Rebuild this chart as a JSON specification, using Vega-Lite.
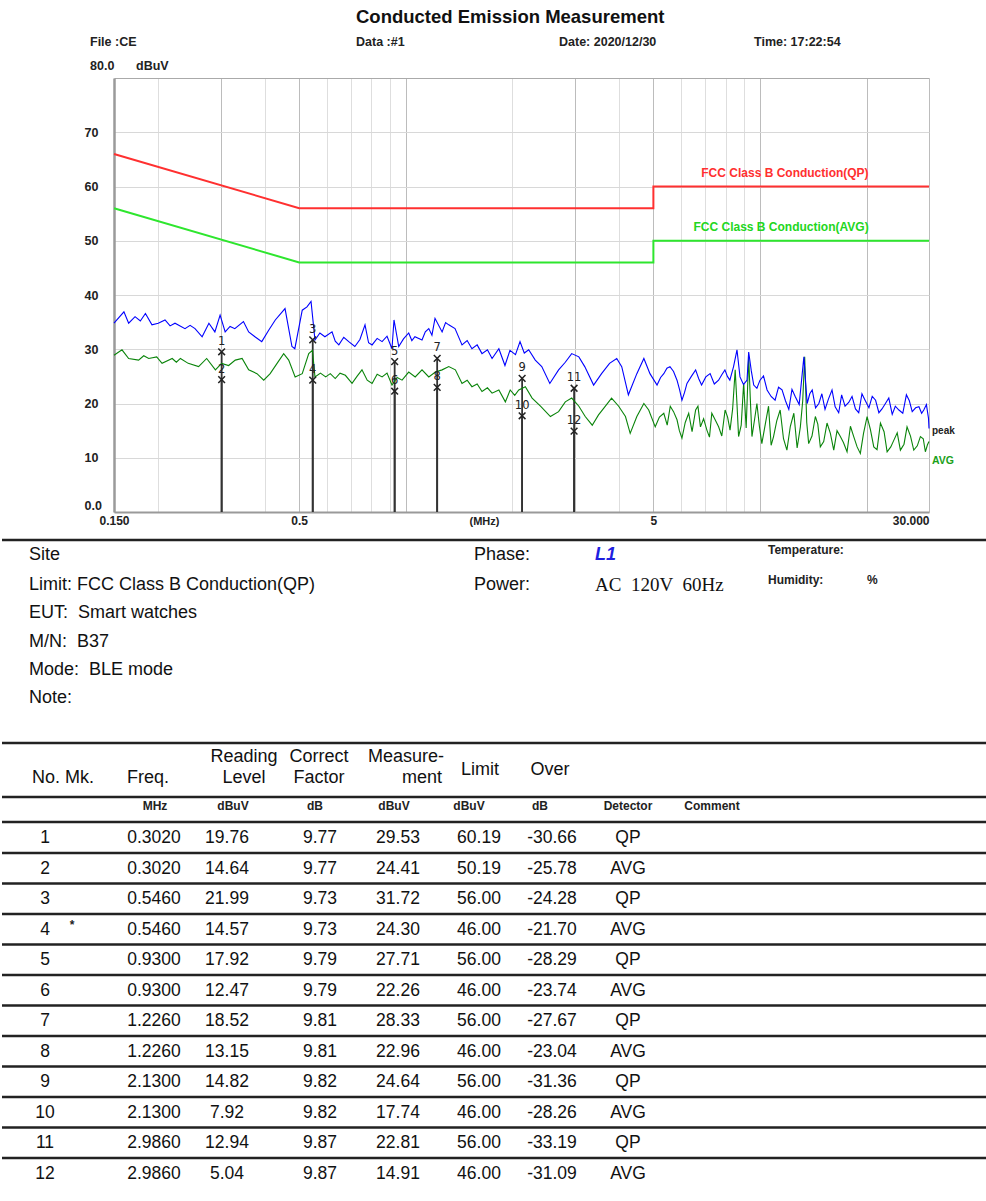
{
  "$schema": "https://vega.github.io/schema/vega-lite/v6.json",
  "padding": 0,
  "spacing": 0,
  "bounds": "flush",
  "background": "white",
  "config": {
    "view": {"stroke": null},
    "font": "Liberation Sans",
    "locale": {"number": {"decimal": ".", "thousands": ",", "grouping": [3], "currency": ["$", ""], "minus": "-"}}
  },
  "datasets": {
    "markers": [
      {"No": 1, "Mk": "", "Freq": 0.302, "Reading": 19.76, "Correct": 9.77, "Measurement": 29.53, "Limit": 60.19, "Over": -30.66, "Detector": "QP"},
      {"No": 2, "Mk": "", "Freq": 0.302, "Reading": 14.64, "Correct": 9.77, "Measurement": 24.41, "Limit": 50.19, "Over": -25.78, "Detector": "AVG"},
      {"No": 3, "Mk": "", "Freq": 0.546, "Reading": 21.99, "Correct": 9.73, "Measurement": 31.72, "Limit": 56.00, "Over": -24.28, "Detector": "QP"},
      {"No": 4, "Mk": "*", "Freq": 0.546, "Reading": 14.57, "Correct": 9.73, "Measurement": 24.30, "Limit": 46.00, "Over": -21.70, "Detector": "AVG"},
      {"No": 5, "Mk": "", "Freq": 0.930, "Reading": 17.92, "Correct": 9.79, "Measurement": 27.71, "Limit": 56.00, "Over": -28.29, "Detector": "QP"},
      {"No": 6, "Mk": "", "Freq": 0.930, "Reading": 12.47, "Correct": 9.79, "Measurement": 22.26, "Limit": 46.00, "Over": -23.74, "Detector": "AVG"},
      {"No": 7, "Mk": "", "Freq": 1.226, "Reading": 18.52, "Correct": 9.81, "Measurement": 28.33, "Limit": 56.00, "Over": -27.67, "Detector": "QP"},
      {"No": 8, "Mk": "", "Freq": 1.226, "Reading": 13.15, "Correct": 9.81, "Measurement": 22.96, "Limit": 46.00, "Over": -23.04, "Detector": "AVG"},
      {"No": 9, "Mk": "", "Freq": 2.130, "Reading": 14.82, "Correct": 9.82, "Measurement": 24.64, "Limit": 56.00, "Over": -31.36, "Detector": "QP"},
      {"No": 10, "Mk": "", "Freq": 2.130, "Reading": 7.92, "Correct": 9.82, "Measurement": 17.74, "Limit": 46.00, "Over": -28.26, "Detector": "AVG"},
      {"No": 11, "Mk": "", "Freq": 2.986, "Reading": 12.94, "Correct": 9.87, "Measurement": 22.81, "Limit": 56.00, "Over": -33.19, "Detector": "QP"},
      {"No": 12, "Mk": "", "Freq": 2.986, "Reading": 5.04, "Correct": 9.87, "Measurement": 14.91, "Limit": 46.00, "Over": -31.09, "Detector": "AVG"}
    ],
    "limits": [
      {"Limit": "QP", "Seq": 1, "Freq": 0.15, "Level": 66},
      {"Limit": "QP", "Seq": 2, "Freq": 0.5, "Level": 56},
      {"Limit": "QP", "Seq": 3, "Freq": 5, "Level": 56},
      {"Limit": "QP", "Seq": 4, "Freq": 5, "Level": 60},
      {"Limit": "QP", "Seq": 5, "Freq": 30, "Level": 60},
      {"Limit": "AVG", "Seq": 1, "Freq": 0.15, "Level": 56},
      {"Limit": "AVG", "Seq": 2, "Freq": 0.5, "Level": 46},
      {"Limit": "AVG", "Seq": 3, "Freq": 5, "Level": 46},
      {"Limit": "AVG", "Seq": 4, "Freq": 5, "Level": 50},
      {"Limit": "AVG", "Seq": 5, "Freq": 30, "Level": 50}
    ],
    "annotations": [
      {"label": "FCC Class B Conduction(QP)", "series": "QPlimit"},
      {"label": "FCC Class B Conduction(AVG)", "series": "AVGlimit"},
      {"label": "peak", "series": "peak"},
      {"label": "AVG", "series": "AVG"}
    ],
    "trace": [
      {"Trace": "peak", "Freq": 0.150, "Level": 34.8},
      {"Trace": "peak", "Freq": 0.160, "Level": 36.9},
      {"Trace": "peak", "Freq": 0.165, "Level": 34.8},
      {"Trace": "peak", "Freq": 0.172, "Level": 36.0},
      {"Trace": "peak", "Freq": 0.178, "Level": 35.2},
      {"Trace": "peak", "Freq": 0.184, "Level": 36.6},
      {"Trace": "peak", "Freq": 0.192, "Level": 34.5},
      {"Trace": "peak", "Freq": 0.200, "Level": 34.8},
      {"Trace": "peak", "Freq": 0.209, "Level": 35.4},
      {"Trace": "peak", "Freq": 0.216, "Level": 34.3},
      {"Trace": "peak", "Freq": 0.223, "Level": 34.8},
      {"Trace": "peak", "Freq": 0.238, "Level": 33.8},
      {"Trace": "peak", "Freq": 0.246, "Level": 34.4},
      {"Trace": "peak", "Freq": 0.254, "Level": 33.8},
      {"Trace": "peak", "Freq": 0.266, "Level": 32.3},
      {"Trace": "peak", "Freq": 0.278, "Level": 34.8},
      {"Trace": "peak", "Freq": 0.289, "Level": 33.2},
      {"Trace": "peak", "Freq": 0.299, "Level": 36.3},
      {"Trace": "peak", "Freq": 0.309, "Level": 33.2},
      {"Trace": "peak", "Freq": 0.319, "Level": 34.2},
      {"Trace": "peak", "Freq": 0.329, "Level": 33.8},
      {"Trace": "peak", "Freq": 0.348, "Level": 35.1},
      {"Trace": "peak", "Freq": 0.360, "Level": 33.2},
      {"Trace": "peak", "Freq": 0.375, "Level": 32.3},
      {"Trace": "peak", "Freq": 0.392, "Level": 31.4},
      {"Trace": "peak", "Freq": 0.410, "Level": 33.5},
      {"Trace": "peak", "Freq": 0.428, "Level": 35.4},
      {"Trace": "peak", "Freq": 0.456, "Level": 37.5},
      {"Trace": "peak", "Freq": 0.477, "Level": 30.5},
      {"Trace": "peak", "Freq": 0.486, "Level": 30.1},
      {"Trace": "peak", "Freq": 0.510, "Level": 37.2},
      {"Trace": "peak", "Freq": 0.526, "Level": 37.8},
      {"Trace": "peak", "Freq": 0.540, "Level": 38.8},
      {"Trace": "peak", "Freq": 0.554, "Level": 31.7},
      {"Trace": "peak", "Freq": 0.572, "Level": 33.0},
      {"Trace": "peak", "Freq": 0.591, "Level": 32.3},
      {"Trace": "peak", "Freq": 0.619, "Level": 33.2},
      {"Trace": "peak", "Freq": 0.632, "Level": 31.5},
      {"Trace": "peak", "Freq": 0.647, "Level": 30.8},
      {"Trace": "peak", "Freq": 0.668, "Level": 32.2},
      {"Trace": "peak", "Freq": 0.690, "Level": 31.4},
      {"Trace": "peak", "Freq": 0.718, "Level": 30.5},
      {"Trace": "peak", "Freq": 0.742, "Level": 31.8},
      {"Trace": "peak", "Freq": 0.767, "Level": 34.5},
      {"Trace": "peak", "Freq": 0.785, "Level": 31.2},
      {"Trace": "peak", "Freq": 0.803, "Level": 30.8},
      {"Trace": "peak", "Freq": 0.830, "Level": 32.0},
      {"Trace": "peak", "Freq": 0.857, "Level": 31.4},
      {"Trace": "peak", "Freq": 0.885, "Level": 32.4},
      {"Trace": "peak", "Freq": 0.914, "Level": 30.1},
      {"Trace": "peak", "Freq": 0.926, "Level": 35.4},
      {"Trace": "peak", "Freq": 0.955, "Level": 30.5},
      {"Trace": "peak", "Freq": 0.985, "Level": 31.9},
      {"Trace": "peak", "Freq": 1.019, "Level": 33.0},
      {"Trace": "peak", "Freq": 1.040, "Level": 31.6},
      {"Trace": "peak", "Freq": 1.061, "Level": 32.3},
      {"Trace": "peak", "Freq": 1.111, "Level": 31.7},
      {"Trace": "peak", "Freq": 1.135, "Level": 33.2},
      {"Trace": "peak", "Freq": 1.161, "Level": 33.8},
      {"Trace": "peak", "Freq": 1.185, "Level": 32.6},
      {"Trace": "peak", "Freq": 1.209, "Level": 35.7},
      {"Trace": "peak", "Freq": 1.266, "Level": 33.2},
      {"Trace": "peak", "Freq": 1.295, "Level": 34.9},
      {"Trace": "peak", "Freq": 1.322, "Level": 34.5},
      {"Trace": "peak", "Freq": 1.377, "Level": 33.8},
      {"Trace": "peak", "Freq": 1.441, "Level": 30.8},
      {"Trace": "peak", "Freq": 1.490, "Level": 31.6},
      {"Trace": "peak", "Freq": 1.537, "Level": 30.1},
      {"Trace": "peak", "Freq": 1.590, "Level": 30.8},
      {"Trace": "peak", "Freq": 1.641, "Level": 29.2},
      {"Trace": "peak", "Freq": 1.700, "Level": 29.9},
      {"Trace": "peak", "Freq": 1.752, "Level": 28.3},
      {"Trace": "peak", "Freq": 1.831, "Level": 30.1},
      {"Trace": "peak", "Freq": 1.905, "Level": 27.0},
      {"Trace": "peak", "Freq": 1.968, "Level": 29.8},
      {"Trace": "peak", "Freq": 2.040, "Level": 29.0},
      {"Trace": "peak", "Freq": 2.101, "Level": 31.4},
      {"Trace": "peak", "Freq": 2.160, "Level": 29.3},
      {"Trace": "peak", "Freq": 2.223, "Level": 29.9},
      {"Trace": "peak", "Freq": 2.32, "Level": 28.0},
      {"Trace": "peak", "Freq": 2.42, "Level": 26.8},
      {"Trace": "peak", "Freq": 2.55, "Level": 23.7},
      {"Trace": "peak", "Freq": 2.70, "Level": 26.2},
      {"Trace": "peak", "Freq": 2.82, "Level": 27.6},
      {"Trace": "peak", "Freq": 2.94, "Level": 29.2},
      {"Trace": "peak", "Freq": 3.08, "Level": 28.6},
      {"Trace": "peak", "Freq": 3.20, "Level": 26.8},
      {"Trace": "peak", "Freq": 3.39, "Level": 23.4},
      {"Trace": "peak", "Freq": 3.57, "Level": 25.5},
      {"Trace": "peak", "Freq": 3.76, "Level": 27.4},
      {"Trace": "peak", "Freq": 3.94, "Level": 28.3},
      {"Trace": "peak", "Freq": 4.07, "Level": 26.8},
      {"Trace": "peak", "Freq": 4.25, "Level": 21.6},
      {"Trace": "peak", "Freq": 4.49, "Level": 25.5},
      {"Trace": "peak", "Freq": 4.70, "Level": 28.3},
      {"Trace": "peak", "Freq": 4.89, "Level": 25.5},
      {"Trace": "peak", "Freq": 5.12, "Level": 23.4},
      {"Trace": "peak", "Freq": 5.24, "Level": 24.8},
      {"Trace": "peak", "Freq": 5.35, "Level": 25.5},
      {"Trace": "peak", "Freq": 5.46, "Level": 26.5},
      {"Trace": "peak", "Freq": 5.57, "Level": 26.8},
      {"Trace": "peak", "Freq": 5.70, "Level": 25.9},
      {"Trace": "peak", "Freq": 5.83, "Level": 24.3},
      {"Trace": "peak", "Freq": 5.93, "Level": 22.5},
      {"Trace": "peak", "Freq": 6.02, "Level": 20.6},
      {"Trace": "peak", "Freq": 6.12, "Level": 22.0},
      {"Trace": "peak", "Freq": 6.22, "Level": 23.7},
      {"Trace": "peak", "Freq": 6.40, "Level": 25.0},
      {"Trace": "peak", "Freq": 6.58, "Level": 26.2},
      {"Trace": "peak", "Freq": 6.71, "Level": 24.6},
      {"Trace": "peak", "Freq": 6.84, "Level": 23.4},
      {"Trace": "peak", "Freq": 7.03, "Level": 24.9},
      {"Trace": "peak", "Freq": 7.23, "Level": 25.5},
      {"Trace": "peak", "Freq": 7.43, "Level": 23.6},
      {"Trace": "peak", "Freq": 7.64, "Level": 24.3},
      {"Trace": "peak", "Freq": 7.80, "Level": 25.3},
      {"Trace": "peak", "Freq": 7.96, "Level": 26.2},
      {"Trace": "peak", "Freq": 8.09, "Level": 25.0},
      {"Trace": "peak", "Freq": 8.22, "Level": 24.3},
      {"Trace": "peak", "Freq": 8.42, "Level": 26.8},
      {"Trace": "peak", "Freq": 8.61, "Level": 29.9},
      {"Trace": "peak", "Freq": 8.78, "Level": 24.9},
      {"Trace": "peak", "Freq": 8.98, "Level": 23.5},
      {"Trace": "peak", "Freq": 9.19, "Level": 24.3},
      {"Trace": "peak", "Freq": 9.29, "Level": 29.5},
      {"Trace": "peak", "Freq": 9.45, "Level": 26.0},
      {"Trace": "peak", "Freq": 9.60, "Level": 23.4},
      {"Trace": "peak", "Freq": 9.80, "Level": 22.8},
      {"Trace": "peak", "Freq": 10.00, "Level": 24.3},
      {"Trace": "peak", "Freq": 10.23, "Level": 25.1},
      {"Trace": "peak", "Freq": 10.47, "Level": 22.5},
      {"Trace": "peak", "Freq": 10.75, "Level": 21.3},
      {"Trace": "peak", "Freq": 11.03, "Level": 20.6},
      {"Trace": "peak", "Freq": 11.28, "Level": 23.0},
      {"Trace": "peak", "Freq": 11.54, "Level": 22.5},
      {"Trace": "peak", "Freq": 11.80, "Level": 20.5},
      {"Trace": "peak", "Freq": 12.06, "Level": 18.9},
      {"Trace": "peak", "Freq": 12.31, "Level": 22.6},
      {"Trace": "peak", "Freq": 12.57, "Level": 21.3},
      {"Trace": "peak", "Freq": 12.90, "Level": 19.8},
      {"Trace": "peak", "Freq": 13.30, "Level": 28.6},
      {"Trace": "peak", "Freq": 13.45, "Level": 24.0},
      {"Trace": "peak", "Freq": 13.59, "Level": 20.0},
      {"Trace": "peak", "Freq": 13.82, "Level": 21.8},
      {"Trace": "peak", "Freq": 14.04, "Level": 22.5},
      {"Trace": "peak", "Freq": 14.35, "Level": 19.2},
      {"Trace": "peak", "Freq": 14.66, "Level": 20.0},
      {"Trace": "peak", "Freq": 14.95, "Level": 21.8},
      {"Trace": "peak", "Freq": 15.26, "Level": 18.9},
      {"Trace": "peak", "Freq": 15.6, "Level": 20.8},
      {"Trace": "peak", "Freq": 15.97, "Level": 22.5},
      {"Trace": "peak", "Freq": 16.3, "Level": 19.4},
      {"Trace": "peak", "Freq": 16.68, "Level": 18.3},
      {"Trace": "peak", "Freq": 17.0, "Level": 21.6},
      {"Trace": "peak", "Freq": 17.38, "Level": 19.5},
      {"Trace": "peak", "Freq": 17.8, "Level": 20.2},
      {"Trace": "peak", "Freq": 18.19, "Level": 21.3},
      {"Trace": "peak", "Freq": 18.6, "Level": 19.0},
      {"Trace": "peak", "Freq": 19.00, "Level": 18.3},
      {"Trace": "peak", "Freq": 19.4, "Level": 21.8},
      {"Trace": "peak", "Freq": 19.80, "Level": 20.6},
      {"Trace": "peak", "Freq": 20.3, "Level": 19.2},
      {"Trace": "peak", "Freq": 20.74, "Level": 21.3},
      {"Trace": "peak", "Freq": 21.2, "Level": 20.6},
      {"Trace": "peak", "Freq": 21.66, "Level": 18.3},
      {"Trace": "peak", "Freq": 22.1, "Level": 19.0},
      {"Trace": "peak", "Freq": 22.6, "Level": 20.0},
      {"Trace": "peak", "Freq": 23.1, "Level": 21.0},
      {"Trace": "peak", "Freq": 23.62, "Level": 18.0},
      {"Trace": "peak", "Freq": 24.1, "Level": 19.5},
      {"Trace": "peak", "Freq": 24.67, "Level": 18.8},
      {"Trace": "peak", "Freq": 25.3, "Level": 18.2},
      {"Trace": "peak", "Freq": 25.9, "Level": 21.6},
      {"Trace": "peak", "Freq": 26.4, "Level": 20.5},
      {"Trace": "peak", "Freq": 26.9, "Level": 18.5},
      {"Trace": "peak", "Freq": 27.5, "Level": 19.2},
      {"Trace": "peak", "Freq": 28.1, "Level": 19.4},
      {"Trace": "peak", "Freq": 28.6, "Level": 18.2},
      {"Trace": "peak", "Freq": 29.0, "Level": 18.8},
      {"Trace": "peak", "Freq": 29.5, "Level": 19.8},
      {"Trace": "peak", "Freq": 29.9, "Level": 17.3},
      {"Trace": "peak", "Freq": 30.0, "Level": 15.4},
      {"Trace": "AVG", "Freq": 0.150, "Level": 28.9},
      {"Trace": "AVG", "Freq": 0.158, "Level": 29.9},
      {"Trace": "AVG", "Freq": 0.165, "Level": 28.3},
      {"Trace": "AVG", "Freq": 0.176, "Level": 28.0},
      {"Trace": "AVG", "Freq": 0.182, "Level": 28.8},
      {"Trace": "AVG", "Freq": 0.188, "Level": 28.3},
      {"Trace": "AVG", "Freq": 0.198, "Level": 28.6},
      {"Trace": "AVG", "Freq": 0.205, "Level": 27.4},
      {"Trace": "AVG", "Freq": 0.219, "Level": 28.3},
      {"Trace": "AVG", "Freq": 0.225, "Level": 27.6},
      {"Trace": "AVG", "Freq": 0.231, "Level": 28.3},
      {"Trace": "AVG", "Freq": 0.243, "Level": 27.4},
      {"Trace": "AVG", "Freq": 0.260, "Level": 26.8},
      {"Trace": "AVG", "Freq": 0.274, "Level": 28.3},
      {"Trace": "AVG", "Freq": 0.290, "Level": 26.2},
      {"Trace": "AVG", "Freq": 0.302, "Level": 27.4},
      {"Trace": "AVG", "Freq": 0.316, "Level": 27.0},
      {"Trace": "AVG", "Freq": 0.330, "Level": 28.0},
      {"Trace": "AVG", "Freq": 0.345, "Level": 28.3},
      {"Trace": "AVG", "Freq": 0.360, "Level": 26.2},
      {"Trace": "AVG", "Freq": 0.380, "Level": 25.5},
      {"Trace": "AVG", "Freq": 0.397, "Level": 24.3},
      {"Trace": "AVG", "Freq": 0.414, "Level": 25.5},
      {"Trace": "AVG", "Freq": 0.433, "Level": 27.4},
      {"Trace": "AVG", "Freq": 0.452, "Level": 29.2},
      {"Trace": "AVG", "Freq": 0.467, "Level": 28.0},
      {"Trace": "AVG", "Freq": 0.487, "Level": 24.9},
      {"Trace": "AVG", "Freq": 0.510, "Level": 25.5},
      {"Trace": "AVG", "Freq": 0.532, "Level": 29.2},
      {"Trace": "AVG", "Freq": 0.545, "Level": 29.8},
      {"Trace": "AVG", "Freq": 0.554, "Level": 24.9},
      {"Trace": "AVG", "Freq": 0.574, "Level": 25.6},
      {"Trace": "AVG", "Freq": 0.594, "Level": 24.9},
      {"Trace": "AVG", "Freq": 0.612, "Level": 25.5},
      {"Trace": "AVG", "Freq": 0.632, "Level": 24.6},
      {"Trace": "AVG", "Freq": 0.652, "Level": 25.6},
      {"Trace": "AVG", "Freq": 0.675, "Level": 25.2},
      {"Trace": "AVG", "Freq": 0.705, "Level": 23.7},
      {"Trace": "AVG", "Freq": 0.728, "Level": 25.0},
      {"Trace": "AVG", "Freq": 0.752, "Level": 26.2},
      {"Trace": "AVG", "Freq": 0.778, "Level": 24.3},
      {"Trace": "AVG", "Freq": 0.803, "Level": 23.7},
      {"Trace": "AVG", "Freq": 0.830, "Level": 25.4},
      {"Trace": "AVG", "Freq": 0.857, "Level": 24.9},
      {"Trace": "AVG", "Freq": 0.885, "Level": 25.6},
      {"Trace": "AVG", "Freq": 0.914, "Level": 23.4},
      {"Trace": "AVG", "Freq": 0.945, "Level": 24.8},
      {"Trace": "AVG", "Freq": 0.976, "Level": 24.3},
      {"Trace": "AVG", "Freq": 1.019, "Level": 25.8},
      {"Trace": "AVG", "Freq": 1.063, "Level": 24.9},
      {"Trace": "AVG", "Freq": 1.111, "Level": 26.2},
      {"Trace": "AVG", "Freq": 1.161, "Level": 24.9},
      {"Trace": "AVG", "Freq": 1.212, "Level": 25.8},
      {"Trace": "AVG", "Freq": 1.266, "Level": 26.2},
      {"Trace": "AVG", "Freq": 1.322, "Level": 26.8},
      {"Trace": "AVG", "Freq": 1.380, "Level": 26.2},
      {"Trace": "AVG", "Freq": 1.441, "Level": 23.7},
      {"Trace": "AVG", "Freq": 1.490, "Level": 24.3},
      {"Trace": "AVG", "Freq": 1.537, "Level": 23.1},
      {"Trace": "AVG", "Freq": 1.590, "Level": 23.6},
      {"Trace": "AVG", "Freq": 1.641, "Level": 22.2},
      {"Trace": "AVG", "Freq": 1.700, "Level": 22.9},
      {"Trace": "AVG", "Freq": 1.752, "Level": 21.9},
      {"Trace": "AVG", "Freq": 1.831, "Level": 22.5},
      {"Trace": "AVG", "Freq": 1.910, "Level": 20.3},
      {"Trace": "AVG", "Freq": 1.971, "Level": 22.5},
      {"Trace": "AVG", "Freq": 2.030, "Level": 21.5},
      {"Trace": "AVG", "Freq": 2.084, "Level": 22.5},
      {"Trace": "AVG", "Freq": 2.175, "Level": 23.1},
      {"Trace": "AVG", "Freq": 2.273, "Level": 21.0},
      {"Trace": "AVG", "Freq": 2.40, "Level": 19.5},
      {"Trace": "AVG", "Freq": 2.56, "Level": 17.6},
      {"Trace": "AVG", "Freq": 2.70, "Level": 18.5},
      {"Trace": "AVG", "Freq": 2.82, "Level": 20.3},
      {"Trace": "AVG", "Freq": 2.94, "Level": 21.0},
      {"Trace": "AVG", "Freq": 3.08, "Level": 19.5},
      {"Trace": "AVG", "Freq": 3.21, "Level": 17.6},
      {"Trace": "AVG", "Freq": 3.36, "Level": 16.0},
      {"Trace": "AVG", "Freq": 3.50, "Level": 17.9},
      {"Trace": "AVG", "Freq": 3.66, "Level": 19.5},
      {"Trace": "AVG", "Freq": 3.81, "Level": 21.0},
      {"Trace": "AVG", "Freq": 3.99, "Level": 19.5},
      {"Trace": "AVG", "Freq": 4.17, "Level": 17.6},
      {"Trace": "AVG", "Freq": 4.30, "Level": 14.5},
      {"Trace": "AVG", "Freq": 4.49, "Level": 17.6},
      {"Trace": "AVG", "Freq": 4.70, "Level": 20.0},
      {"Trace": "AVG", "Freq": 4.85, "Level": 18.8},
      {"Trace": "AVG", "Freq": 5.06, "Level": 15.7},
      {"Trace": "AVG", "Freq": 5.20, "Level": 17.5},
      {"Trace": "AVG", "Freq": 5.35, "Level": 18.2},
      {"Trace": "AVG", "Freq": 5.47, "Level": 16.0},
      {"Trace": "AVG", "Freq": 5.58, "Level": 19.5},
      {"Trace": "AVG", "Freq": 5.70, "Level": 18.5},
      {"Trace": "AVG", "Freq": 5.83, "Level": 17.0},
      {"Trace": "AVG", "Freq": 5.92, "Level": 15.0},
      {"Trace": "AVG", "Freq": 6.02, "Level": 13.6},
      {"Trace": "AVG", "Freq": 6.15, "Level": 16.5},
      {"Trace": "AVG", "Freq": 6.29, "Level": 18.2},
      {"Trace": "AVG", "Freq": 6.43, "Level": 14.8},
      {"Trace": "AVG", "Freq": 6.58, "Level": 18.8},
      {"Trace": "AVG", "Freq": 6.68, "Level": 19.5},
      {"Trace": "AVG", "Freq": 6.79, "Level": 15.7},
      {"Trace": "AVG", "Freq": 6.93, "Level": 17.2},
      {"Trace": "AVG", "Freq": 7.08, "Level": 15.1},
      {"Trace": "AVG", "Freq": 7.20, "Level": 13.8},
      {"Trace": "AVG", "Freq": 7.31, "Level": 18.2},
      {"Trace": "AVG", "Freq": 7.47, "Level": 17.0},
      {"Trace": "AVG", "Freq": 7.64, "Level": 15.7},
      {"Trace": "AVG", "Freq": 7.80, "Level": 14.0},
      {"Trace": "AVG", "Freq": 7.97, "Level": 18.8},
      {"Trace": "AVG", "Freq": 8.10, "Level": 17.5},
      {"Trace": "AVG", "Freq": 8.23, "Level": 15.1},
      {"Trace": "AVG", "Freq": 8.37, "Level": 19.0},
      {"Trace": "AVG", "Freq": 8.51, "Level": 26.2},
      {"Trace": "AVG", "Freq": 8.60, "Level": 20.5},
      {"Trace": "AVG", "Freq": 8.70, "Level": 13.9},
      {"Trace": "AVG", "Freq": 8.85, "Level": 16.0},
      {"Trace": "AVG", "Freq": 8.99, "Level": 23.7},
      {"Trace": "AVG", "Freq": 9.14, "Level": 15.5},
      {"Trace": "AVG", "Freq": 9.29, "Level": 28.6},
      {"Trace": "AVG", "Freq": 9.38, "Level": 21.5},
      {"Trace": "AVG", "Freq": 9.49, "Level": 13.9},
      {"Trace": "AVG", "Freq": 9.65, "Level": 17.0},
      {"Trace": "AVG", "Freq": 9.80, "Level": 20.0},
      {"Trace": "AVG", "Freq": 9.96, "Level": 15.8},
      {"Trace": "AVG", "Freq": 10.12, "Level": 12.6},
      {"Trace": "AVG", "Freq": 10.35, "Level": 16.2},
      {"Trace": "AVG", "Freq": 10.57, "Level": 19.5},
      {"Trace": "AVG", "Freq": 10.75, "Level": 12.3},
      {"Trace": "AVG", "Freq": 10.92, "Level": 13.9},
      {"Trace": "AVG", "Freq": 11.15, "Level": 16.8},
      {"Trace": "AVG", "Freq": 11.40, "Level": 18.8},
      {"Trace": "AVG", "Freq": 11.65, "Level": 13.5},
      {"Trace": "AVG", "Freq": 11.91, "Level": 11.4},
      {"Trace": "AVG", "Freq": 12.18, "Level": 15.8},
      {"Trace": "AVG", "Freq": 12.46, "Level": 18.2},
      {"Trace": "AVG", "Freq": 12.73, "Level": 11.8},
      {"Trace": "AVG", "Freq": 13.00, "Level": 15.7},
      {"Trace": "AVG", "Freq": 13.20, "Level": 20.5},
      {"Trace": "AVG", "Freq": 13.37, "Level": 28.6},
      {"Trace": "AVG", "Freq": 13.55, "Level": 16.5},
      {"Trace": "AVG", "Freq": 13.72, "Level": 12.6},
      {"Trace": "AVG", "Freq": 14.02, "Level": 14.0},
      {"Trace": "AVG", "Freq": 14.33, "Level": 17.6},
      {"Trace": "AVG", "Freq": 14.56, "Level": 16.2},
      {"Trace": "AVG", "Freq": 14.80, "Level": 12.0},
      {"Trace": "AVG", "Freq": 15.13, "Level": 13.0},
      {"Trace": "AVG", "Freq": 15.46, "Level": 16.4},
      {"Trace": "AVG", "Freq": 15.8, "Level": 14.5},
      {"Trace": "AVG", "Freq": 16.15, "Level": 11.4},
      {"Trace": "AVG", "Freq": 16.5, "Level": 15.0},
      {"Trace": "AVG", "Freq": 16.86, "Level": 13.9},
      {"Trace": "AVG", "Freq": 17.2, "Level": 12.8},
      {"Trace": "AVG", "Freq": 17.61, "Level": 11.1},
      {"Trace": "AVG", "Freq": 18.0, "Level": 15.8},
      {"Trace": "AVG", "Freq": 18.39, "Level": 13.9},
      {"Trace": "AVG", "Freq": 18.8, "Level": 12.0},
      {"Trace": "AVG", "Freq": 19.20, "Level": 10.8},
      {"Trace": "AVG", "Freq": 19.6, "Level": 14.5},
      {"Trace": "AVG", "Freq": 20.06, "Level": 17.6},
      {"Trace": "AVG", "Freq": 20.5, "Level": 15.2},
      {"Trace": "AVG", "Freq": 20.95, "Level": 12.0},
      {"Trace": "AVG", "Freq": 21.4, "Level": 11.5},
      {"Trace": "AVG", "Freq": 21.88, "Level": 16.4},
      {"Trace": "AVG", "Freq": 22.4, "Level": 14.8},
      {"Trace": "AVG", "Freq": 22.85, "Level": 11.1},
      {"Trace": "AVG", "Freq": 23.4, "Level": 12.0},
      {"Trace": "AVG", "Freq": 23.86, "Level": 13.2},
      {"Trace": "AVG", "Freq": 24.4, "Level": 14.6},
      {"Trace": "AVG", "Freq": 24.91, "Level": 11.4},
      {"Trace": "AVG", "Freq": 25.5, "Level": 12.5},
      {"Trace": "AVG", "Freq": 26.01, "Level": 15.7},
      {"Trace": "AVG", "Freq": 26.6, "Level": 14.0},
      {"Trace": "AVG", "Freq": 27.17, "Level": 11.4},
      {"Trace": "AVG", "Freq": 27.8, "Level": 12.2},
      {"Trace": "AVG", "Freq": 28.37, "Level": 13.9},
      {"Trace": "AVG", "Freq": 28.9, "Level": 13.5},
      {"Trace": "AVG", "Freq": 29.30, "Level": 11.1},
      {"Trace": "AVG", "Freq": 29.7, "Level": 12.4},
      {"Trace": "AVG", "Freq": 30.0, "Level": 13.0}
    ],
    "header": [
      {"text": "Conducted Emission Measurement", "kind": "title", "col": 3, "line": 1},
      {"text": "File :CE", "kind": "header", "col": 1, "line": 2},
      {"text": "Data :#1", "kind": "header", "col": 3, "line": 2},
      {"text": "Date: 2020/12/30", "kind": "header", "col": 4, "line": 2},
      {"text": "Time: 17:22:54", "kind": "header", "col": 5, "line": 2},
      {"text": "80.0", "kind": "header", "col": 1, "line": 3},
      {"text": "dBuV", "kind": "header", "col": 2, "line": 3}
    ],
    "page": [
      {"text": "Site", "kind": "info", "col": 101, "line": 102},
      {"text": "Limit: FCC Class B Conduction(QP)", "kind": "info", "col": 101, "line": 104},
      {"text": "EUT:\u00a0 Smart watches", "kind": "info", "col": 101, "line": 105},
      {"text": "M/N:\u00a0 B37", "kind": "info", "col": 101, "line": 106},
      {"text": "Mode:\u00a0 BLE mode", "kind": "info", "col": 101, "line": 107},
      {"text": "Note:", "kind": "info", "col": 101, "line": 108},
      {"text": "Phase:", "kind": "info", "col": 102, "line": 102},
      {"text": "Power:", "kind": "info", "col": 102, "line": 104},
      {"text": "L1", "kind": "phase", "col": 103, "line": 102},
      {"text": "AC\u00a0\u00a0120V\u00a0\u00a060Hz", "kind": "power", "col": 103, "line": 104},
      {"text": "Temperature:", "kind": "small", "col": 104, "line": 101},
      {"text": "Humidity:", "kind": "small", "col": 104, "line": 103},
      {"text": "%", "kind": "small", "col": 105, "line": 103},
      {"text": "No. Mk.", "kind": "thead", "col": 106, "line": 111},
      {"text": "Freq.", "kind": "thead", "col": 107, "line": 111},
      {"text": "Reading", "kind": "thead", "col": 108, "line": 109},
      {"text": "Level", "kind": "thead", "col": 108, "line": 111},
      {"text": "Correct", "kind": "thead", "col": 109, "line": 109},
      {"text": "Factor", "kind": "thead", "col": 109, "line": 111},
      {"text": "Measure-", "kind": "thead", "col": 110, "line": 109},
      {"text": "ment", "kind": "thead", "col": 111, "line": 111},
      {"text": "Limit", "kind": "thead", "col": 112, "line": 110},
      {"text": "Over", "kind": "thead", "col": 113, "line": 110},
      {"text": "MHz", "kind": "units", "col": 114, "line": 112},
      {"text": "dBuV", "kind": "units", "col": 115, "line": 112},
      {"text": "dB", "kind": "units", "col": 116, "line": 112},
      {"text": "dBuV", "kind": "units", "col": 117, "line": 112},
      {"text": "dBuV", "kind": "units", "col": 118, "line": 112},
      {"text": "dB", "kind": "units", "col": 119, "line": 112},
      {"text": "Detector", "kind": "units", "col": 120, "line": 112},
      {"text": "Comment", "kind": "units", "col": 121, "line": 112},
      {"kind": "rule", "line": 113},
      {"kind": "rule", "line": 114},
      {"kind": "rule", "line": 115},
      {"kind": "rule", "line": 116},
      {"kind": "rule", "line": 117},
      {"kind": "rule", "line": 118},
      {"kind": "rule", "line": 119},
      {"kind": "rule", "line": 120},
      {"kind": "rule", "line": 121},
      {"kind": "rule", "line": 122},
      {"kind": "rule", "line": 123},
      {"kind": "rule", "line": 124},
      {"kind": "rule", "line": 125},
      {"kind": "rule", "line": 126},
      {"kind": "rule", "line": 127}
    ]
  },
  "vconcat": [
    {
      "width": 986,
      "height": 78,
      "data": {"name": "header"},
      "layer": [
        {
          "transform": [{"filter": "datum.kind == 'title'"}],
          "mark": {"type": "text", "align": "left", "baseline": "middle", "fontSize": 18.5, "fontWeight": "bold", "color": "#111"},
          "encoding": {
            "x": {"field": "col", "type": "quantitative", "axis": null,
              "scale": {"domain": [1, 2, 3, 4, 5], "range": [88, 134, 354, 557, 752], "nice": false, "zero": false}},
            "y": {"field": "line", "type": "quantitative", "axis": null,
              "scale": {"domain": [1, 2, 3], "range": [17, 42, 66], "nice": false, "zero": false}},
            "text": {"field": "text", "type": "nominal"}
          }
        },
        {
          "transform": [{"filter": "datum.kind == 'header'"}],
          "mark": {"type": "text", "align": "left", "baseline": "middle", "fontSize": 12.5, "fontWeight": "bold", "color": "#222"},
          "encoding": {
            "x": {"field": "col", "type": "quantitative", "axis": null},
            "y": {"field": "line", "type": "quantitative", "axis": null},
            "text": {"field": "text", "type": "nominal"}
          }
        }
      ]
    },
    {
      "width": 986,
      "height": 434,
      "layer": [
        {
          "data": {"name": "limits"},
          "transform": [{"filter": "datum.Limit == 'QP'"}],
          "mark": {"type": "line", "color": "#ff3030", "strokeWidth": 2},
          "encoding": {
            "x": {
              "field": "Freq", "type": "quantitative",
              "scale": {"type": "log", "domain": [0.15, 30], "range": [112, 927], "nice": false, "padding": 0},
              "axis": {
                "orient": "bottom",
                "values": [0.15, 0.2, 0.3, 0.4, 0.5, 0.6, 0.7, 0.8, 0.9, 1, 2, 3, 4, 5, 6, 7, 8, 9, 10, 20, 30],
                "labelExpr": "datum.value == 0.15 ? '0.150' : datum.value == 0.5 ? '0.5' : datum.value == 5 ? '5' : datum.value == 30 ? '30.000' : ''",
                "labelFlush": false, "labelOverlap": false, "labelFontSize": 12, "labelFontWeight": "bold", "labelColor": "#222",
                "labelAlign": {"condition": {"test": "datum.value == 30", "value": "right"}, "value": "center"},
                "labelPadding": 3, "labelBaseline": "top", "ticks": false, "tickSize": 0,
                "domain": true, "domainColor": "#9a9a9a", "domainWidth": 2,
                "grid": true, "gridWidth": 1,
                "gridColor": {"condition": {"test": "indexof([0.3, 0.5, 1, 3, 5, 10, 20, 30], datum.value) >= 0", "value": "#bcbcbc"}, "value": "#dedede"},
                "title": "(MHz)", "titleX": 482, "titleY": 3, "titleBaseline": "top", "titleAlign": "center",
                "titleFontSize": 11, "titleFontWeight": "bold", "titleColor": "#222"
              }
            },
            "y": {
              "field": "Level", "type": "quantitative",
              "scale": {"domain": [0, 80], "nice": false, "zero": false, "padding": 0},
              "axis": {
                "orient": "left", "offset": -112,
                "values": [0, 10, 20, 30, 40, 50, 60, 70, 80],
                "labelExpr": "datum.value == 0 ? '0.0' : datum.value == 80 ? '' : datum.label",
                "labelAlign": "left", "labelPadding": 30, "ticks": false, "tickSize": 0,
                "labelBaseline": {"condition": {"test": "datum.value == 0", "value": "bottom"}, "value": "middle"},
                "labelFontSize": 12.5, "labelFontWeight": "bold", "labelColor": "#222",
                "domain": true, "domainColor": "#9a9a9a", "domainWidth": 2.5,
                "grid": true, "gridWidth": 1,
                "gridColor": {"condition": {"test": "datum.value == 80", "value": "#aaaaaa"}, "value": "#d8d8d8"},
                "title": null
              }
            },
            "order": {"field": "Seq", "type": "quantitative"}
          }
        },
        {
          "data": {"name": "limits"},
          "transform": [{"filter": "datum.Limit == 'AVG'"}],
          "mark": {"type": "line", "color": "#2ee62e", "strokeWidth": 2},
          "encoding": {
            "x": {"field": "Freq", "type": "quantitative"},
            "y": {"field": "Level", "type": "quantitative"},
            "order": {"field": "Seq", "type": "quantitative"}
          }
        },
        {
          "data": {"name": "markers"},
          "mark": {"type": "bar", "color": "#333333", "width": 1.8},
          "encoding": {
            "x": {"field": "Freq", "type": "quantitative"},
            "y": {"field": "Measurement", "type": "quantitative", "stack": null}
          }
        },
        {
          "data": {"name": "trace"},
          "transform": [{"filter": "datum.Trace == 'AVG'"}],
          "mark": {"type": "line", "color": "#0a840a", "strokeWidth": 1.1},
          "encoding": {
            "x": {"field": "Freq", "type": "quantitative"},
            "y": {"field": "Level", "type": "quantitative"}
          }
        },
        {
          "data": {"name": "trace"},
          "transform": [{"filter": "datum.Trace == 'peak'"}],
          "mark": {"type": "line", "color": "#0000ff", "strokeWidth": 1.1},
          "encoding": {
            "x": {"field": "Freq", "type": "quantitative"},
            "y": {"field": "Level", "type": "quantitative"}
          }
        },
        {
          "data": {"name": "markers"},
          "mark": {"type": "point", "shape": "M-1,-1L1,1M-1,1L1,-1", "filled": false, "size": 45, "stroke": "#222", "strokeWidth": 1.5, "opacity": 1},
          "encoding": {
            "x": {"field": "Freq", "type": "quantitative"},
            "y": {"field": "Measurement", "type": "quantitative"}
          }
        },
        {
          "data": {"name": "markers"},
          "mark": {"type": "text", "dy": -10, "fontSize": 11.5, "color": "#222", "font": "DejaVu Sans"},
          "encoding": {
            "x": {"field": "Freq", "type": "quantitative"},
            "y": {"field": "Measurement", "type": "quantitative"},
            "text": {"field": "No", "type": "nominal"}
          }
        },
        {
          "data": {"name": "annotations"},
          "transform": [{"filter": "datum.series == 'QPlimit'"}],
          "mark": {"type": "text", "align": "right", "baseline": "middle", "dx": 2, "dy": -14, "fontSize": 12, "fontWeight": "bold", "color": "#ff3030"},
          "encoding": {"x": {"datum": 20}, "y": {"datum": 60}, "text": {"field": "label", "type": "nominal"}}
        },
        {
          "data": {"name": "annotations"},
          "transform": [{"filter": "datum.series == 'AVGlimit'"}],
          "mark": {"type": "text", "align": "right", "baseline": "middle", "dx": 2, "dy": -13.5, "fontSize": 12, "fontWeight": "bold", "color": "#22d622"},
          "encoding": {"x": {"datum": 20}, "y": {"datum": 50}, "text": {"field": "label", "type": "nominal"}}
        },
        {
          "data": {"name": "annotations"},
          "transform": [{"filter": "datum.series == 'peak'"}],
          "mark": {"type": "text", "align": "left", "baseline": "middle", "dx": 3, "fontSize": 10, "fontWeight": "bold", "color": "#222"},
          "encoding": {"x": {"datum": 30}, "y": {"datum": 15}, "text": {"field": "label", "type": "nominal"}}
        },
        {
          "data": {"name": "annotations"},
          "transform": [{"filter": "datum.series == 'AVG'"}],
          "mark": {"type": "text", "align": "left", "baseline": "middle", "dx": 3, "fontSize": 10.5, "fontWeight": "bold", "color": "#1aa01a"},
          "encoding": {"x": {"datum": 30}, "y": {"datum": 9.4}, "text": {"field": "label", "type": "nominal"}}
        }
      ]
    },
    {
      "width": 986,
      "height": 689,
      "layer": [
        {
          "data": {"name": "page"},
          "transform": [{"filter": "datum.kind == 'info'"}],
          "mark": {"type": "text", "align": "left", "baseline": "middle", "fontSize": 18, "color": "#111"},
          "encoding": {
            "x": {"field": "col", "type": "quantitative", "axis": null,
              "scale": {"domain": [1, 2, 3, 4, 5, 6, 7, 8, 9, 101, 102, 103, 104, 105, 106, 107, 108, 109, 110, 111, 112, 113, 114, 115, 116, 117, 118, 119, 120, 121],
                        "range": [43, 70, 152, 225, 318, 396, 477, 550, 626, 27, 472, 593, 766, 865, 61, 146, 242, 317, 404, 420, 478, 548, 153, 231, 313, 392, 467, 538, 626, 710],
                        "nice": false, "zero": false, "padding": 0}},
            "y": {"field": "line", "type": "quantitative", "axis": null,
              "scale": {"domain": [1, 12, 101, 102, 103, 104, 105, 106, 107, 108, 109, 110, 111, 112, 113, 114, 115, 116, 117, 118, 119, 120, 121, 122, 123, 124, 125, 126, 127],
                        "range": [326, 661.5, 38, 43, 68, 73, 101, 130, 158, 186, 245, 258, 266, 294, 28, 231, 285, 310, 341, 371.5, 402, 432.5, 463, 493.5, 524, 554.5, 585, 615.5, 646],
                        "nice": false, "zero": false, "padding": 0}},
            "text": {"field": "text", "type": "nominal"}
          }
        },
        {
          "data": {"name": "page"},
          "transform": [{"filter": "datum.kind == 'rule'"}],
          "mark": {"type": "rule", "color": "#222", "strokeWidth": 2.5},
          "encoding": {"y": {"field": "line", "type": "quantitative", "axis": null}}
        },
        {
          "data": {"name": "page"},
          "transform": [{"filter": "datum.kind == 'thead'"}],
          "mark": {"type": "text", "align": "center", "baseline": "middle", "fontSize": 18, "color": "#111"},
          "encoding": {
            "x": {"field": "col", "type": "quantitative", "axis": null},
            "y": {"field": "line", "type": "quantitative", "axis": null},
            "text": {"field": "text", "type": "nominal"}
          }
        },
        {
          "data": {"name": "page"},
          "transform": [{"filter": "datum.kind == 'units'"}],
          "mark": {"type": "text", "align": "center", "baseline": "middle", "fontSize": 12, "fontWeight": "bold", "color": "#222"},
          "encoding": {
            "x": {"field": "col", "type": "quantitative", "axis": null},
            "y": {"field": "line", "type": "quantitative", "axis": null},
            "text": {"field": "text", "type": "nominal"}
          }
        },
        {
          "data": {"name": "page"},
          "transform": [{"filter": "datum.kind == 'small'"}],
          "mark": {"type": "text", "align": "left", "baseline": "middle", "fontSize": 12, "fontWeight": "bold", "color": "#222"},
          "encoding": {
            "x": {"field": "col", "type": "quantitative", "axis": null},
            "y": {"field": "line", "type": "quantitative", "axis": null},
            "text": {"field": "text", "type": "nominal"}
          }
        },
        {
          "data": {"name": "page"},
          "transform": [{"filter": "datum.kind == 'phase'"}],
          "mark": {"type": "text", "align": "left", "baseline": "middle", "fontSize": 18, "fontWeight": "bold", "fontStyle": "italic", "color": "#1f1fe0"},
          "encoding": {
            "x": {"field": "col", "type": "quantitative", "axis": null},
            "y": {"field": "line", "type": "quantitative", "axis": null},
            "text": {"field": "text", "type": "nominal"}
          }
        },
        {
          "data": {"name": "page"},
          "transform": [{"filter": "datum.kind == 'power'"}],
          "mark": {"type": "text", "align": "left", "baseline": "middle", "fontSize": 19, "font": "Liberation Serif", "color": "#111"},
          "encoding": {
            "x": {"field": "col", "type": "quantitative", "axis": null},
            "y": {"field": "line", "type": "quantitative", "axis": null},
            "text": {"field": "text", "type": "nominal"}
          }
        },
        {
          "data": {"name": "markers"},
          "mark": {"type": "text", "align": "center", "baseline": "middle", "fontSize": 17.5, "color": "#111"},
          "encoding": {
            "x": {"datum": 1, "type": "quantitative", "axis": null},
            "y": {"field": "No", "type": "quantitative", "axis": null},
            "text": {"field": "No", "type": "nominal"}
          }
        },
        {
          "data": {"name": "markers"},
          "mark": {"type": "text", "align": "center", "baseline": "middle", "dy": -5, "fontSize": 12, "fontWeight": "bold", "color": "#222"},
          "encoding": {
            "x": {"datum": 2, "type": "quantitative", "axis": null},
            "y": {"field": "No", "type": "quantitative", "axis": null},
            "text": {"field": "Mk", "type": "nominal"}
          }
        },
        {
          "data": {"name": "markers"},
          "mark": {"type": "text", "align": "center", "baseline": "middle", "fontSize": 17.5, "color": "#111"},
          "encoding": {
            "x": {"datum": 3, "type": "quantitative", "axis": null},
            "y": {"field": "No", "type": "quantitative", "axis": null},
            "text": {"field": "Freq", "type": "quantitative", "format": ".4f"}
          }
        },
        {
          "data": {"name": "markers"},
          "mark": {"type": "text", "align": "center", "baseline": "middle", "fontSize": 17.5, "color": "#111"},
          "encoding": {
            "x": {"datum": 4, "type": "quantitative", "axis": null},
            "y": {"field": "No", "type": "quantitative", "axis": null},
            "text": {"field": "Reading", "type": "quantitative", "format": ".2f"}
          }
        },
        {
          "data": {"name": "markers"},
          "mark": {"type": "text", "align": "center", "baseline": "middle", "fontSize": 17.5, "color": "#111"},
          "encoding": {
            "x": {"datum": 5, "type": "quantitative", "axis": null},
            "y": {"field": "No", "type": "quantitative", "axis": null},
            "text": {"field": "Correct", "type": "quantitative", "format": ".2f"}
          }
        },
        {
          "data": {"name": "markers"},
          "mark": {"type": "text", "align": "center", "baseline": "middle", "fontSize": 17.5, "color": "#111"},
          "encoding": {
            "x": {"datum": 6, "type": "quantitative", "axis": null},
            "y": {"field": "No", "type": "quantitative", "axis": null},
            "text": {"field": "Measurement", "type": "quantitative", "format": ".2f"}
          }
        },
        {
          "data": {"name": "markers"},
          "mark": {"type": "text", "align": "center", "baseline": "middle", "fontSize": 17.5, "color": "#111"},
          "encoding": {
            "x": {"datum": 7, "type": "quantitative", "axis": null},
            "y": {"field": "No", "type": "quantitative", "axis": null},
            "text": {"field": "Limit", "type": "quantitative", "format": ".2f"}
          }
        },
        {
          "data": {"name": "markers"},
          "mark": {"type": "text", "align": "center", "baseline": "middle", "fontSize": 17.5, "color": "#111"},
          "encoding": {
            "x": {"datum": 8, "type": "quantitative", "axis": null},
            "y": {"field": "No", "type": "quantitative", "axis": null},
            "text": {"field": "Over", "type": "quantitative", "format": ".2f"}
          }
        },
        {
          "data": {"name": "markers"},
          "mark": {"type": "text", "align": "center", "baseline": "middle", "fontSize": 17.5, "color": "#111"},
          "encoding": {
            "x": {"datum": 9, "type": "quantitative", "axis": null},
            "y": {"field": "No", "type": "quantitative", "axis": null},
            "text": {"field": "Detector", "type": "nominal"}
          }
        }
      ]
    }
  ]
}
